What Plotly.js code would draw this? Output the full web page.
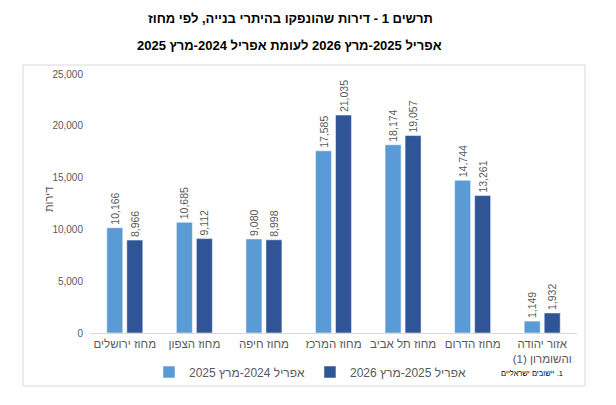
<!DOCTYPE html>
<html>
<head>
<meta charset="utf-8">
<script src="https://cdn.plot.ly/plotly-3.0.1.min.js"></script>
<style>html,body{margin:0;padding:0;background:#fff;}#chart{width:616px;height:405px;}</style>
</head>
<body>
<div id="chart"></div>
<script>
const RLM = '\u200F';
const categories = [
  'מחוז ירושלים',
  'מחוז הצפון',
  'מחוז חיפה',
  'מחוז המרכז',
  'מחוז תל אביב',
  'מחוז הדרום',
  'אזור יהודה<br>והשומרון (1)' + RLM
];
const series1Name = 'אפריל 2024-מרץ 2025';
const series2Name = 'אפריל 2025-מרץ 2026';
const series1Values = [10166, 10685, 9080, 17585, 18174, 14744, 1149];
const series2Values = [8966, 9112, 8998, 21035, 19057, 13261, 1932];
const titleLine1 = 'תרשים 1 - דירות שהונפקו בהיתרי בנייה, לפי מחוז';
const titleLine2 = 'אפריל 2025-מרץ 2026 לעומת אפריל 2024-מרץ 2025';
const yTitle = 'דירות';
const footnote = RLM + '1. יישובים ישראליים';

const font = 'Arial, "Liberation Sans", "DejaVu Sans", sans-serif';
const grey = '#595959';

const labelFont = {family: font, size: 10.5, color: grey};
const traces = [
  {type: 'bar', x: categories, y: series1Values, name: series1Name,
   marker: {color: '#5B9BD5', line: {color: '#ffffff', width: 0.5}},
   texttemplate: '%{y:,}', textposition: 'outside', textangle: -90, constraintext: 'none',
   textfont: labelFont, cliponaxis: false, hoverinfo: 'none'},
  {type: 'bar', x: categories, y: series2Values, name: series2Name,
   marker: {color: '#2F5597', line: {color: '#ffffff', width: 0.5}},
   texttemplate: '%{y:,}', textposition: 'outside', textangle: -90, constraintext: 'none',
   textfont: labelFont, cliponaxis: false, hoverinfo: 'none'}
];

const L = 90, R = 39, T = 74, B = 72, W = 616, H = 405;
const pw = W - L - R, ph = H - T - B;
const px = v => (v - L) / pw;
const py = v => (H - B - v) / ph;

const layout = {
  width: W, height: H,
  margin: {l: L, r: R, t: T, b: B, pad: 0},
  paper_bgcolor: '#ffffff', plot_bgcolor: '#ffffff',
  font: {family: font, color: grey},
  separators: '.,',
  barmode: 'group', bargap: 0.425, bargroupgap: 0.2,
  showlegend: true,
  legend: {orientation: 'h', x: px(310), y: py(372), xanchor: 'center', yanchor: 'middle',
           font: {family: font, size: 12, color: grey}, bgcolor: 'rgba(0,0,0,0)', itemwidth: 30},
  xaxis: {showgrid: false, showline: true, linecolor: '#D9D9D9', linewidth: 1,
          ticks: '', tickfont: {family: font, size: 11.5, color: grey}, fixedrange: true,
          zeroline: false},
  yaxis: {range: [0, 25000], dtick: 5000, tickformat: ',', showgrid: false, showline: false,
          zeroline: false, ticks: '', ticklabelstandoff: 6,
          tickfont: {family: font, size: 10, color: grey}},
  shapes: [{type: 'rect', xref: 'paper', yref: 'paper', x0: px(23), x1: px(585), y0: py(386), y1: py(65),
            line: {color: '#D9D9D9', width: 1}, layer: 'below'}],
  annotations: [
    {text: '<b>' + titleLine1 + '</b>', xref: 'paper', yref: 'paper', x: px(290), y: py(18),
     xanchor: 'center', yanchor: 'middle', showarrow: false, font: {family: font, size: 13, color: '#000'}},
    {text: '<b>' + titleLine2 + '</b>', xref: 'paper', yref: 'paper', x: px(289), y: py(45),
     xanchor: 'center', yanchor: 'middle', showarrow: false, font: {family: font, size: 13, color: '#000'}},
    {text: yTitle, xref: 'paper', yref: 'paper', x: px(49), y: py(200), textangle: -90,
     xanchor: 'center', yanchor: 'middle', showarrow: false, font: {family: font, size: 11, color: grey}},
    {text: footnote, xref: 'paper', yref: 'paper', x: px(565), y: py(373),
     xanchor: 'right', yanchor: 'middle', showarrow: false, font: {family: font, size: 7.5, color: '#000'}}
  ]
};

Plotly.newPlot('chart', traces, layout, {displayModeBar: false, staticPlot: true});
</script>
</body>
</html>
